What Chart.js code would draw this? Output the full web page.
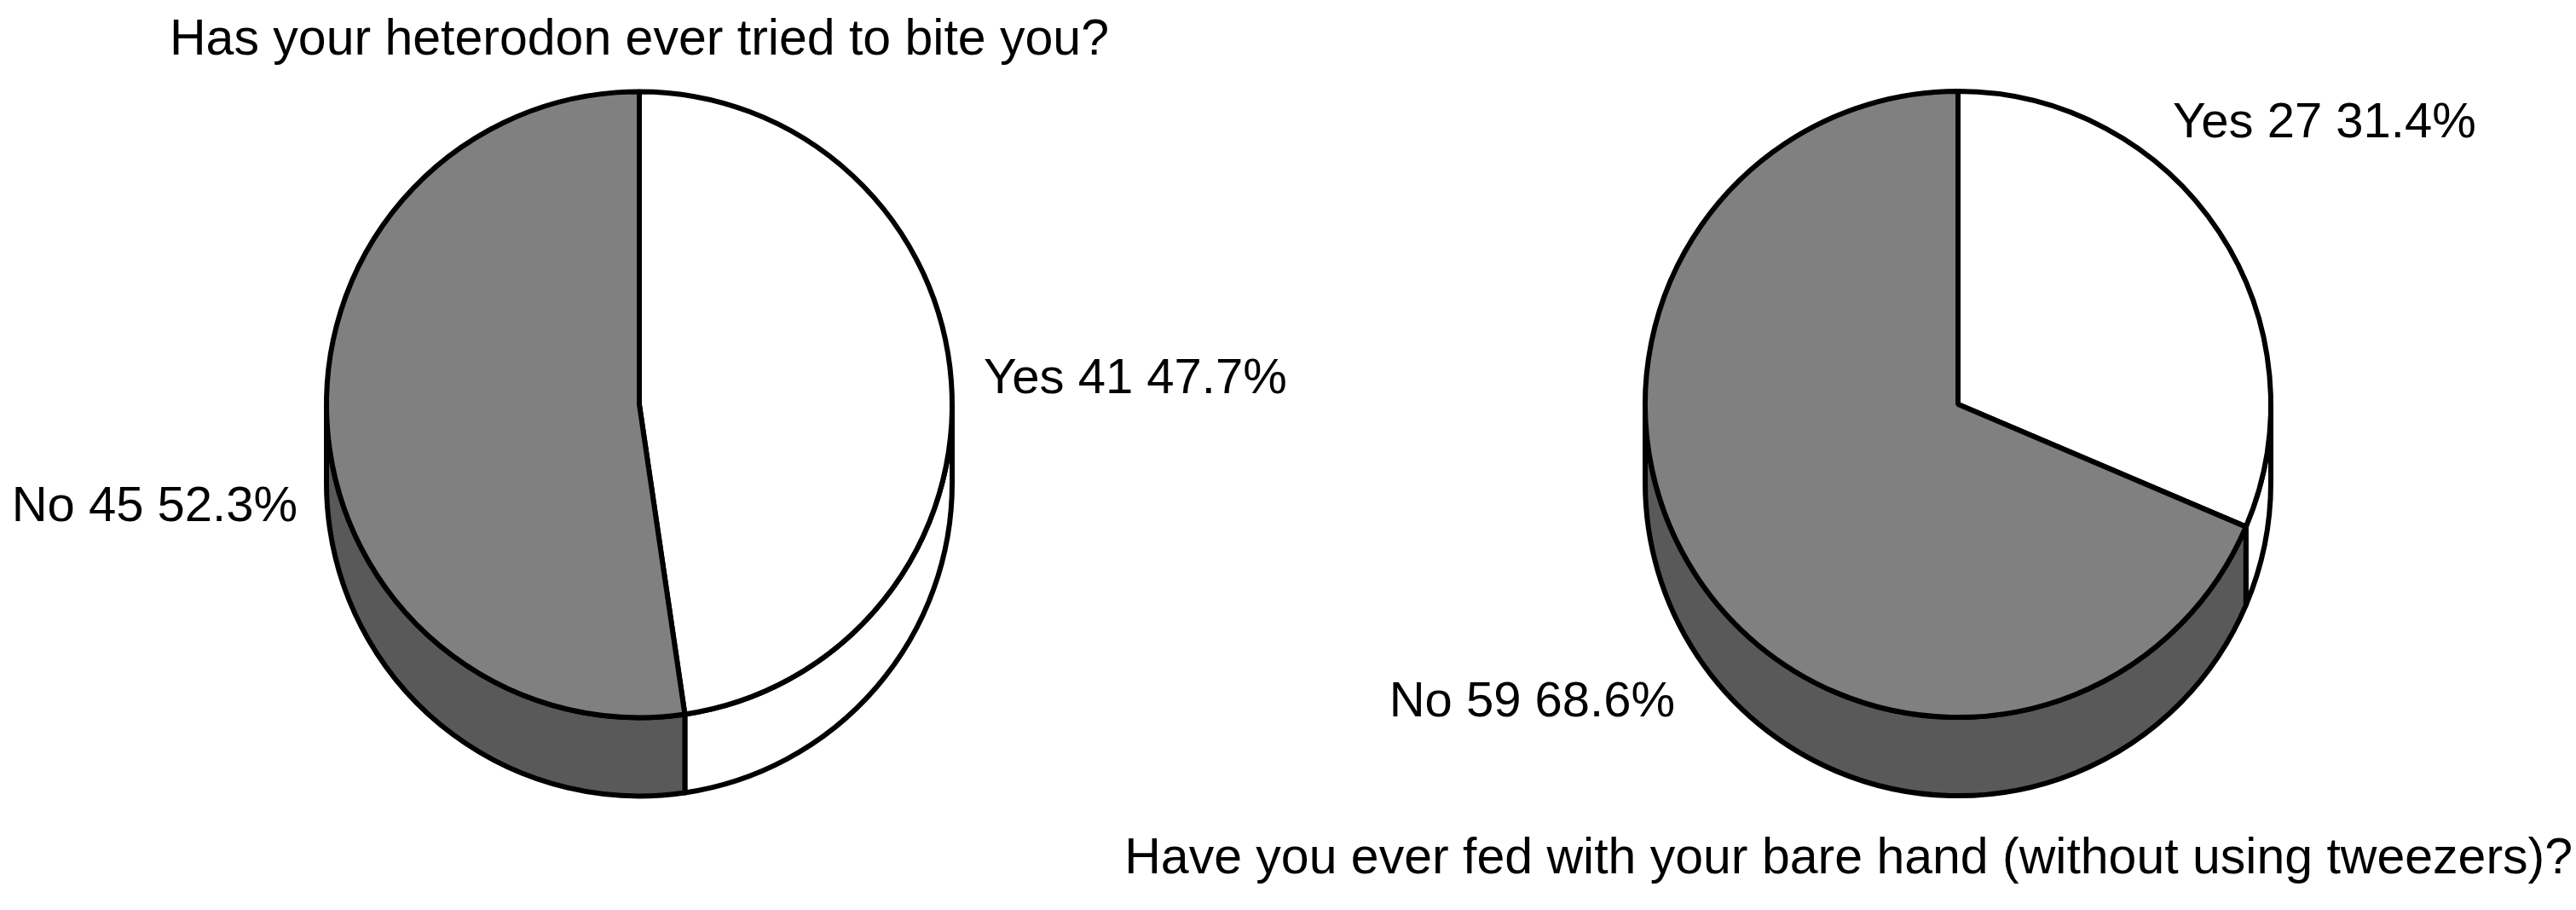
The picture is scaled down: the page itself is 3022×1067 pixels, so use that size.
<!DOCTYPE html>
<html>
<head>
<meta charset="utf-8">
<script src="https://cdn.jsdelivr.net/npm/chart.js@4.4.1/dist/chart.umd.min.js"></script>
<style>
  html, body { margin: 0; padding: 0; background: #fff; overflow: hidden; }
  #wrap { position: relative; width: 3022px; height: 1067px; }
  canvas { position: absolute; top: 0; }
  #bite { left: 0; }
  #hand { left: 1262px; }
</style>
</head>
<body>
<div id="wrap">
  <canvas id="bite" width="1600" height="1067"></canvas>
  <canvas id="hand" width="1760" height="1067"></canvas>
</div>
<script>
const categories = ['Yes', 'No']
const biteCounts = [41, 45]
const bitePercents = [47.7, 52.3]
const handCounts = [27, 59]
const handPercents = [31.4, 68.6]

const biteTitle = 'Has your heterodon ever tried to bite you?'
const handTitle = 'Have you ever fed with your bare hand (without using tweezers)?'

const topColors = ['#ffffff', '#808080']
const sideColors = ['#ffffff', '#595959']
const FONT = "'Liberation Sans', Arial, sans-serif"

// moves the pie centre, then draws the cylinder wall under the lower half of each slice
const pieDepth = {
    id: 'pieDepth',
    afterLayout(chart, args, opts) {
        const a = chart.chartArea
        const dx = opts.shiftX || 0
        const dy = opts.shiftY || 0
        a.left += dx
        a.right += dx
        a.top += dy
        a.bottom += dy
    },
    beforeDatasetsDraw(chart, args, opts) {
        const ctx = chart.ctx
        const d = opts.depth
        chart.getDatasetMeta(0).data.forEach((arc, i) => {
            const p = arc.getProps(['x', 'y', 'startAngle', 'endAngle', 'outerRadius'])
            const a0 = Math.max(p.startAngle, 0)
            const a1 = Math.min(p.endAngle, Math.PI)
            if (a1 <= a0) return
            const r = p.outerRadius
            ctx.save()
            ctx.beginPath()
            ctx.moveTo(p.x + r * Math.cos(a0), p.y + d + r * Math.sin(a0))
            ctx.arc(p.x, p.y + d, r, a0, a1)
            ctx.lineTo(p.x + r * Math.cos(a1), p.y + r * Math.sin(a1))
            ctx.arc(p.x, p.y, r, a1, a0, true)
            ctx.closePath()
            ctx.fillStyle = sideColors[i]
            ctx.fill()
            ctx.lineWidth = opts.lineWidth
            ctx.lineJoin = 'round'
            ctx.strokeStyle = '#000'
            ctx.stroke()
            ctx.restore()
        })
    },
}

// "Yes 41 47.7%" style labels, placed relative to the pie centre
const sliceLabels = {
    id: 'sliceLabels',
    afterDatasetsDraw(chart, args, opts) {
        const ctx = chart.ctx
        const ds = chart.data.datasets[0]
        chart.getDatasetMeta(0).data.forEach((arc, i) => {
            const pos = opts.places[i]
            const text = chart.data.labels[i] + ' ' + ds.data[i] + ' ' + ds.percents[i].toFixed(1) + '%'
            ctx.save()
            ctx.font = opts.size + 'px ' + FONT
            ctx.fillStyle = '#000'
            ctx.textAlign = pos.align
            ctx.textBaseline = 'alphabetic'
            ctx.fillText(text, arc.x + pos.dx, arc.y + pos.dy)
            ctx.restore()
        })
    },
}

function makePie(id, counts, percents, title, extra) {
    return new Chart(id, {
        type: 'pie',
        data: {
            labels: categories,
            datasets: [
                {
                    data: counts,
                    percents: percents,
                    backgroundColor: topColors,
                    borderColor: '#000',
                    borderWidth: 6,
                    radius: 367,
                    clip: false,
                },
            ],
        },
        options: {
            responsive: false,
            animation: false,
            layout: { padding: extra.padding },
            plugins: {
                legend: { display: false },
                tooltip: { enabled: false },
                title: {
                    display: true,
                    text: title,
                    position: extra.titlePos,
                    align: extra.titleAlign,
                    color: '#000',
                    font: { size: 59, family: FONT, weight: 'normal', lineHeight: 1.2 },
                    padding: extra.titlePadding,
                },
                pieDepth: { depth: 92, lineWidth: 6, shiftX: extra.shiftX, shiftY: extra.shiftY },
                sliceLabels: { size: 58, places: extra.places },
            },
        },
        plugins: [pieDepth, sliceLabels],
    })
}

makePie('bite', biteCounts, bitePercents, biteTitle, {
    padding: { top: 0, bottom: 211, left: 0, right: 100 },
    titlePos: 'top',
    titleAlign: 'center',
    titlePadding: { top: 12, bottom: 10 },
    shiftX: 0,
    shiftY: 0,
    places: [
        { dx: 404, dy: -13, align: 'left' },
        { dx: -401, dy: 137, align: 'right' },
    ],
})

makePie('hand', handCounts, handPercents, handTitle, {
    padding: { top: 0, bottom: 0, left: 0, right: 4 },
    titlePos: 'bottom',
    titleAlign: 'end',
    titlePadding: { top: 0, bottom: 24 },
    shiftX: 157,
    shiftY: -12,
    places: [
        { dx: 252, dy: -313, align: 'left' },
        { dx: -332, dy: 366, align: 'right' },
    ],
})
</script>
</body>
</html>
